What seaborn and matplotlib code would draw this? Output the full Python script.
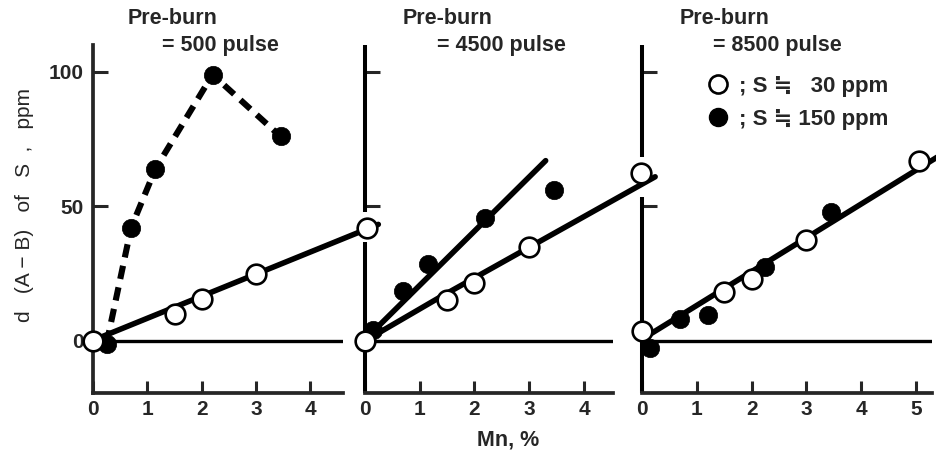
import pandas as pd
import seaborn as sns
import matplotlib.pyplot as plt
from matplotlib.lines import Line2D

# Mn (%) vs d(A-B) of S (ppm)
p1_open_mn = [0, 1.5, 2.0, 3.0, 5.05]
p1_open_ds = [0, 10, 15.5, 25, 42]
p1_fill_mn = [0.25, 0.7, 1.15, 2.2, 3.45]
p1_fill_ds = [-1, 42, 64, 99, 76]
p1_fit_mn = [0.1, 5.25]
p1_fit_ds = [1, 43.3]

p2_open_mn = [0, 1.5, 2.0, 3.0, 5.05]
p2_open_ds = [0, 15, 21.5, 35, 62.5]
p2_fill_mn = [0.15, 0.7, 1.15, 2.2, 3.45]
p2_fill_ds = [4, 18.5, 28.5, 45.5, 56]
p2_fit_open_mn = [0, 1.35, 5.3]
p2_fit_open_ds = [0, 16, 61]
p2_fit_fill_mn = [0, 3.3]
p2_fit_fill_ds = [0.5, 67]

p3_open_mn = [0, 1.5, 2.0, 3.0, 5.05]
p3_open_ds = [3.5, 18, 23, 37.5, 67]
p3_fill_mn = [0.15, 0.7, 1.2, 2.25, 3.45]
p3_fill_ds = [-2.5, 8, 9.5, 27.5, 48]
p3_fit_mn = [0, 5.4]
p3_fit_ds = [0.6, 68.5]

pulses = ['500', '4500', '8500']
y_ticks = [0, 50, 100]
legend_labels = ['; S \u2252   30 ppm', '; S \u2252 150 ppm']

sns.set_style('ticks')
plt.rcParams['font.family'] = ['Liberation Sans', 'DejaVu Sans']

fig = plt.figure(figsize=(9.37, 4.57), dpi=100)
W, H = 937, 457
ylo, yhi = -19.4, 110

ax1 = fig.add_axes([93 / W, 64 / H, 250 / W, 348 / H])
ax2 = fig.add_axes([365 / W, 64 / H, 248 / W, 348 / H])
ax3 = fig.add_axes([642 / W, 64 / H, 290 / W, 348 / H])
axes = [ax1, ax2, ax3]
xmax = [4.6, 4.53, 5.29]
xticks = [range(5), range(5), range(6)]
gaps = [None, (36.6, 47.8), (53.4, 68.3)]

for ax, xm, xt, gap in zip(axes, xmax, xticks, gaps):
    ax.set_facecolor('none')
    ax.set_xlim(0, xm)
    ax.set_ylim(ylo, yhi)
    ax.set_xticks(list(xt))
    ax.set_yticks(y_ticks)
    sns.despine(ax=ax)
    for s in ['left', 'bottom']:
        ax.spines[s].set_linewidth(2.7)
    ax.tick_params(direction='in', length=11, width=2.2, labelsize=15, pad=5)
    ax.tick_params(axis='x', length=9)
    ax.tick_params(axis='y', pad=6.5)
    for lab in ax.get_xticklabels() + ax.get_yticklabels():
        lab.set_fontweight('bold')
    ax.axhline(0, color='k', lw=2.4, zorder=1)
    if gap is not None:
        # y axis is broken where the previous panel's line passes through
        ax.spines['left'].set_visible(False)
        ax.vlines([0, 0], [ylo, gap[1]], [gap[0], yhi], colors='k', lw=2.9, clip_on=False)
        ax.tick_params(axis='y', labelleft=False)

line_kw = dict(color='k', lw=4, estimator=None, sort=False, clip_on=False, zorder=2)
open_kw = dict(marker='o', s=200, color='white', edgecolor='k', linewidth=1.9,
               clip_on=False, zorder=4)
fill_kw = dict(marker='o', s=175, color='k', edgecolor='k', linewidth=0.5,
               clip_on=False, zorder=3)

# panel 1
sns.lineplot(x=p1_fill_mn, y=p1_fill_ds, ax=ax1, linestyle=(0, (2.2, 1.4)),
             **{**line_kw, 'lw': 4.4})
sns.lineplot(x=p1_fit_mn, y=p1_fit_ds, ax=ax1, **line_kw)
sns.scatterplot(x=p1_fill_mn, y=p1_fill_ds, ax=ax1, **fill_kw)
sns.scatterplot(x=p1_open_mn, y=p1_open_ds, ax=ax1, **open_kw)

# panel 2
sns.lineplot(x=p2_fit_open_mn, y=p2_fit_open_ds, ax=ax2, **line_kw)
sns.lineplot(x=p2_fit_fill_mn, y=p2_fit_fill_ds, ax=ax2, **line_kw)
sns.scatterplot(x=p2_fill_mn, y=p2_fill_ds, ax=ax2, **fill_kw)
sns.scatterplot(x=p2_open_mn, y=p2_open_ds, ax=ax2, **open_kw)

# panel 3
sns.lineplot(x=p3_fit_mn, y=p3_fit_ds, ax=ax3, **line_kw)
sns.scatterplot(x=p3_fill_mn, y=p3_fill_ds, ax=ax3, **fill_kw)
sns.scatterplot(x=p3_open_mn, y=p3_open_ds, ax=ax3, **open_kw)

for ax, xm in zip(axes, xmax):
    ax.set_xlim(0, xm)
    ax.set_ylim(ylo, yhi)
    ax.set_xlabel('')
    ax.set_ylabel('')

# titles
title_pos = [(128, 162), (403, 437), (680, 713)]
for (x1, x2), p in zip(title_pos, pulses):
    fig.text(x1 / W, 1 - 18 / H, 'Pre-burn', fontsize=15.5, fontweight='bold', va='center')
    fig.text(x2 / W, 1 - 46 / H, f'= {p} pulse', fontsize=15.5, fontweight='bold', va='center')

fig.text(25 / W, 1 - 205 / H, 'd   (A \u2212 B)   of   S  ,   ppm', rotation=90,
         fontsize=15, ha='center', va='center')
fig.text(508 / W, 1 - 440 / H, 'Mn, %', fontsize=15.5, fontweight='bold',
         ha='center', va='center')

handles = [
    Line2D([], [], ls='none', marker='o', ms=13, mfc='white', mec='k', mew=1.9),
    Line2D([], [], ls='none', marker='o', ms=13, mfc='k', mec='k'),
]
leg = ax3.legend(handles, legend_labels, loc='upper left',
                 bbox_to_anchor=(707 / W, 1 - 76 / H), bbox_transform=fig.transFigure,
                 frameon=False, borderpad=0, borderaxespad=0, handlelength=1.0,
                 handletextpad=0.45, labelspacing=0.55,
                 prop={'size': 16, 'weight': 'bold'})

fig.savefig('out.png', dpi=100)
